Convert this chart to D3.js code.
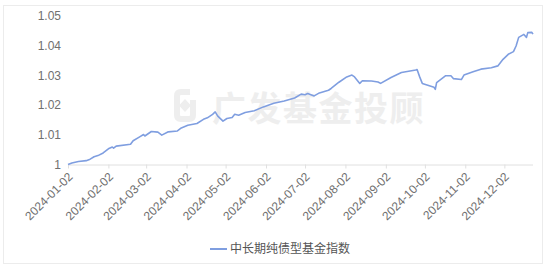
<!DOCTYPE html>
<html>
<head>
<meta charset="utf-8">
<script src="https://cdn.jsdelivr.net/npm/d3@7"></script>
<style>
  body { margin: 0; background: #fff; }
  svg text { font-family: "Liberation Sans", Arial, "Noto Sans CJK SC", sans-serif; }
</style>
</head>
<body>
<div id="chart"></div>
<script>
// values
var dates = ["2024-01-02","2024-01-05","2024-01-10","2024-01-16","2024-01-19","2024-01-22","2024-01-25","2024-01-29",
  "2024-02-02","2024-02-05","2024-02-06","2024-02-08","2024-02-19","2024-02-21","2024-02-26","2024-02-29",
  "2024-03-01","2024-03-06","2024-03-11","2024-03-14","2024-03-19","2024-03-26","2024-03-29",
  "2024-04-03","2024-04-10","2024-04-15","2024-04-18","2024-04-22","2024-04-24","2024-04-26","2024-04-30",
  "2024-05-03","2024-05-07","2024-05-09","2024-05-12","2024-05-17","2024-05-24","2024-05-31",
  "2024-06-08","2024-06-16","2024-06-24","2024-06-29","2024-07-02","2024-07-04","2024-07-09","2024-07-13",
  "2024-07-20","2024-07-22","2024-07-28","2024-08-03","2024-08-07","2024-08-09","2024-08-13","2024-08-15",
  "2024-08-22","2024-08-27","2024-08-29","2024-09-06","2024-09-14","2024-09-25","2024-09-26","2024-09-28",
  "2024-09-30","2024-10-09","2024-10-10","2024-10-11","2024-10-18","2024-10-22","2024-10-24","2024-10-30",
  "2024-11-01","2024-11-08","2024-11-14","2024-11-22","2024-11-27","2024-12-01","2024-12-05","2024-12-09",
  "2024-12-11","2024-12-13","2024-12-17","2024-12-19","2024-12-20","2024-12-23","2024-12-24"];
var values = [1.0000,1.0005,1.0010,1.0013,1.0018,1.0026,1.0030,1.0039,
  1.0053,1.0059,1.0055,1.0062,1.0068,1.0080,1.0093,1.0101,
  1.0096,1.0111,1.0109,1.0099,1.0110,1.0113,1.0123,
  1.0132,1.0138,1.0152,1.0157,1.0169,1.0177,1.0163,1.0146,
  1.0155,1.0158,1.0169,1.0166,1.0175,1.0181,1.0194,
  1.0206,1.0214,1.0224,1.0237,1.0235,1.0239,1.0231,1.0241,
  1.0250,1.0256,1.0277,1.0295,1.0301,1.0295,1.0273,1.0282,
  1.0281,1.0278,1.0273,1.0293,1.0310,1.0318,1.0320,1.0295,
  1.0273,1.0260,1.0253,1.0276,1.0299,1.0299,1.0289,1.0286,
  1.0301,1.0312,1.0321,1.0326,1.0332,1.0354,1.0371,1.0380,
  1.0399,1.0428,1.0438,1.0428,1.0444,1.0445,1.0439];
var yTicks = [1, 1.01, 1.02, 1.03, 1.04, 1.05];
var xTicks = ["2024-01-02","2024-02-02","2024-03-02","2024-04-02","2024-05-02","2024-06-02",
  "2024-07-02","2024-08-02","2024-09-02","2024-10-02","2024-11-02","2024-12-02"];
var seriesName = "中长期纯债型基金指数";
var watermark = "广发基金投顾";

var W = 550, H = 272;
var parse = d3.timeParse("%Y-%m-%d");
var data = dates.map(function(d, i) { return { date: parse(d), value: values[i] }; });

var svg = d3.select("#chart").append("svg")
  .attr("width", W)
  .attr("height", H);

// outer frame
svg.append("rect")
  .attr("x", 3.5).attr("y", 5.5)
  .attr("width", 539).attr("height", 258)
  .attr("fill", "none")
  .attr("stroke", "#ececec");

var x = d3.scaleTime()
  .domain(d3.extent(data, function(d) { return d.date; }))
  .range([68, 533]);

var y = d3.scaleLinear()
  .domain([1, 1.05])
  .range([164.5, 16]);

// watermark
var wm = svg.append("g").attr("fill", "#eeeeee").attr("stroke", "#eeeeee");
wm.append("path")
  .attr("d", "M190,92 H181 Q177,92 177,96 V115 Q177,119 181,119 H189 Q193,119 193,115 V100")
  .attr("fill", "none")
  .attr("stroke-width", 6);
wm.append("path")
  .attr("d", "M185,99 L191,105.5 L185,112 L179,105.5 Z")
  .attr("stroke", "none");
wm.append("text")
  .attr("x", 212)
  .attr("y", 121)
  .attr("stroke", "none")
  .attr("font-size", 34)
  .attr("font-weight", "bold")
  .style("font-family", "'Noto Sans CJK SC', sans-serif")
  .style("letter-spacing", "1.5px")
  .text(watermark);

// x axis
var xAxis = svg.append("g")
  .attr("transform", "translate(0," + y(1) + ")")
  .call(d3.axisBottom(x)
    .tickValues(xTicks.map(parse))
    .tickSize(4)
    .tickFormat(d3.timeFormat("%Y-%m-%d")));
xAxis.select(".domain").attr("stroke", "#e0e0e0").attr("d", "M" + x.range()[0] + ",0.5H" + x.range()[1]);
xAxis.selectAll(".tick line").attr("stroke", "#e0e0e0");
xAxis.selectAll(".tick text")
  .attr("fill", "#707070")
  .attr("font-size", 12)
  .style("text-anchor", "end")
  .attr("dx", 0)
  .attr("dy", 0)
  .attr("y", 0)
  .attr("transform", "translate(5,13) rotate(-45)");

// y labels, no axis line
var yAxis = svg.append("g")
  .attr("transform", "translate(61,0)")
  .call(d3.axisLeft(y).tickValues(yTicks).tickSize(0).tickPadding(0)
    .tickFormat(function(d) { return d3.format("")(+d.toFixed(2)); }));
yAxis.select(".domain").remove();
yAxis.selectAll(".tick text").attr("fill", "#707070").attr("font-size", 12);

// line
svg.append("path")
  .datum(data)
  .attr("fill", "none")
  .attr("stroke", "#7f9ee0")
  .attr("stroke-width", 1.6)
  .attr("stroke-linejoin", "round")
  .attr("d", d3.line()
    .x(function(d) { return x(d.date); })
    .y(function(d) { return y(d.value); }));

// legend
var lg = svg.append("g").attr("transform", "translate(210,249)");
lg.append("line")
  .attr("x1", 0).attr("x2", 17)
  .attr("stroke", "#7f9ee0")
  .attr("stroke-width", 2);
lg.append("text")
  .attr("x", 20)
  .attr("dy", "0.35em")
  .attr("fill", "#555")
  .attr("font-size", 12)
  .style("font-family", "'Noto Sans CJK SC', sans-serif")
  .text(seriesName);
</script>
</body>
</html>
